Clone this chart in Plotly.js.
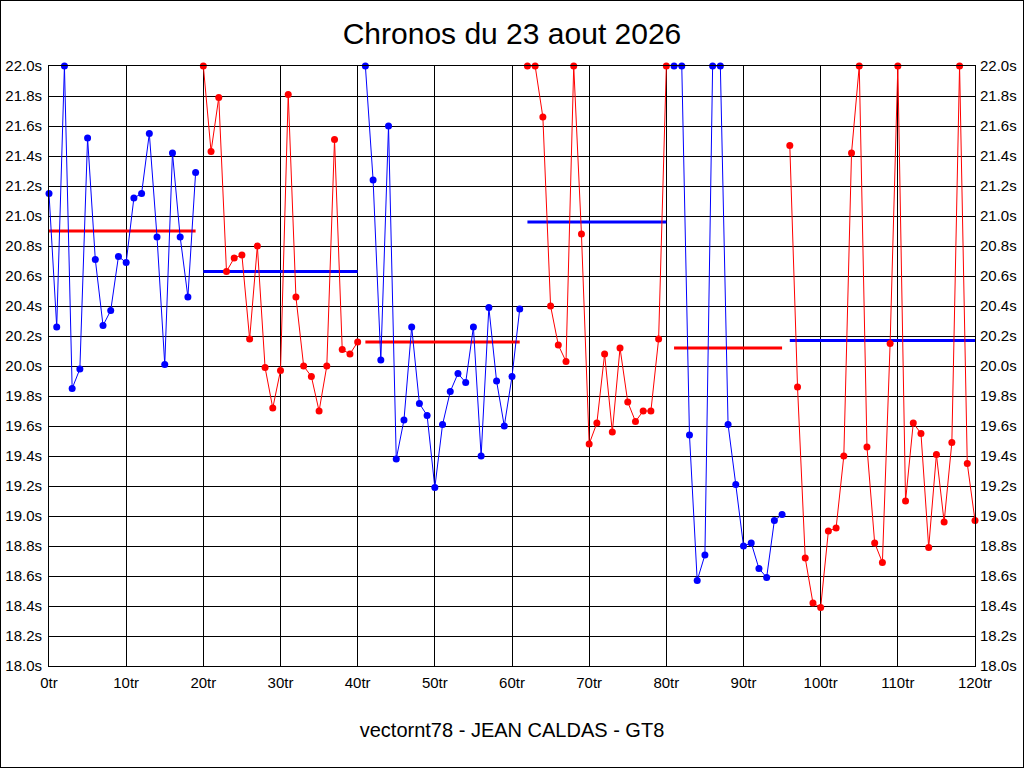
<!DOCTYPE html>
<html>
<head>
<meta charset="utf-8">
<script src="https://cdn.plot.ly/plotly-3.0.1.min.js"></script>
<style>
html,body{margin:0;padding:0;background:#fff;overflow:hidden;}
#chart{width:1024px;height:768px;}
#frame{position:absolute;left:0;top:0;width:1024px;height:768px;box-sizing:border-box;border:1px solid #000;pointer-events:none;}
</style>
</head>
<body>
<div id="chart"></div>
<div id="frame"></div>
<script>
// Lap times (seconds) for laps 0..120, as displayed (values above 22.0 shown at 22.0)
const lapTimes = [
  21.15, 20.26, 22.00, 19.85, 19.98, 21.52, 20.71, 20.27, 20.37, 20.73,
  20.69, 21.12, 21.15, 21.55, 20.86, 20.01, 21.42, 20.86, 20.46, 21.29,
  22.00, 21.43, 21.79, 20.63, 20.72, 20.74, 20.18, 20.80, 19.99, 19.72,
  19.97, 21.81, 20.46, 20.00, 19.93, 19.70, 20.00, 21.51, 20.11, 20.08,
  20.16, 22.00, 21.24, 20.04, 21.60, 19.38, 19.64, 20.26, 19.75, 19.67,
  19.19, 19.61, 19.83, 19.95, 19.89, 20.26, 19.40, 20.39, 19.90, 19.60,
  19.93, 20.38, 22.00, 22.00, 21.66, 20.40, 20.14, 20.03, 22.00, 20.88,
  19.48, 19.62, 20.08, 19.56, 20.12, 19.76, 19.63, 19.70, 19.70, 20.18,
  22.00, 22.00, 22.00, 19.54, 18.57, 18.74, 22.00, 22.00, 19.61, 19.21,
  18.80, 18.82, 18.65, 18.59, 18.97, 19.01, 21.47, 19.86, 18.72, 18.42,
  18.39, 18.90, 18.92, 19.40, 21.42, 22.00, 19.46, 18.82, 18.69, 20.15,
  22.00, 19.10, 19.62, 19.55, 18.79, 19.41, 18.96, 19.49, 22.00, 19.35,
  18.97
];
// Stints (first lap, last lap) and average lap time of each stint
const stintStart = [0, 20, 41, 62, 81, 96];
const stintEnd   = [19, 40, 61, 80, 95, 120];
const stintAvg   = [20.90, 20.63, 20.16, 20.96, 20.12, 20.17];
const pointColors = ['#0000ff', '#ff0000'];
const avgColors   = ['#ff0000', '#0000ff'];

const traces = [];
// average lines first (drawn under the points)
stintStart.forEach((s, i) => {
  traces.push({
    type: 'scatter', mode: 'lines',
    x: [s, stintEnd[i]], y: [stintAvg[i], stintAvg[i]],
    line: {color: avgColors[i % 2], width: 3},
    hoverinfo: 'skip', showlegend: false, cliponaxis: false
  });
});
stintStart.forEach((s, i) => {
  const xs = [], ys = [];
  for (let k = s; k <= stintEnd[i]; k++) { xs.push(k); ys.push(lapTimes[k]); }
  traces.push({
    type: 'scatter', mode: 'lines+markers',
    x: xs, y: ys,
    line: {color: pointColors[i % 2], width: 1},
    marker: {color: pointColors[i % 2], size: 7},
    showlegend: false, cliponaxis: false
  });
});
// empty trace to create the mirrored right-hand axis
traces.push({type: 'scatter', mode: 'markers', x: [null], y: [null], yaxis: 'y2', showlegend: false, hoverinfo: 'skip'});

const tickFont = {family: 'Liberation Sans, Arial, sans-serif', size: 15, color: '#000'};
const yBase = {
  range: [18, 22], dtick: 0.2, tick0: 18, tickformat: '.1f', ticksuffix: 's',
  ticks: '', tickfont: tickFont, zeroline: false, fixedrange: true
};

const layout = {
  width: 1024, height: 768,
  margin: {l: 49, r: 49, t: 66, b: 102, pad: 0},
  paper_bgcolor: '#fff', plot_bgcolor: '#fff',
  font: {family: 'Liberation Sans, Arial, sans-serif', color: '#000'},
  title: {
    text: 'Chronos du 23 aout 2026',
    font: {family: 'Liberation Sans, Arial, sans-serif', size: 30, color: '#000'},
    x: 0.5, xanchor: 'center', xref: 'paper',
    y: 1 - 33 / 768, yanchor: 'middle', yref: 'container'
  },
  xaxis: {
    range: [0, 120], dtick: 10, tick0: 0, ticksuffix: 'tr',
    ticks: '', ticklabelstandoff: 3, tickfont: tickFont,
    showgrid: true, gridcolor: '#000', gridwidth: 1,
    showline: true, linecolor: '#000', linewidth: 1, mirror: true,
    zeroline: false, fixedrange: true,
    title: {text: 'vectornt78 - JEAN CALDAS - GT8', font: {family: 'Liberation Sans, Arial, sans-serif', size: 20, color: '#000'}, standoff: 32}
  },
  yaxis: Object.assign({}, yBase, {
    side: 'left', showgrid: true, gridcolor: '#000', gridwidth: 1,
    showline: true, linecolor: '#000', linewidth: 1, mirror: true,
    ticklabelstandoff: 3
  }),
  yaxis2: Object.assign({}, yBase, {
    overlaying: 'y', side: 'right', showgrid: false, showline: false,
    ticklabelstandoff: 4
  }),
  showlegend: false,
  hovermode: false
};

Plotly.newPlot('chart', traces, layout, {displayModeBar: false, staticPlot: true});
</script>
</body>
</html>
